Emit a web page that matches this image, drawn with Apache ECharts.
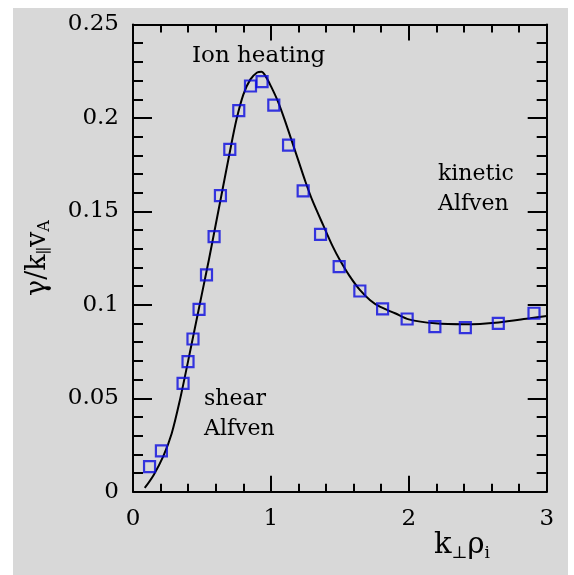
<!DOCTYPE html>
<html>
<head>
<meta charset="utf-8">
<script src="https://cdn.jsdelivr.net/npm/echarts@6/dist/echarts.min.js"></script>
<style>
  html, body { margin: 0; padding: 0; background: #fff; }
  #bg { position: absolute; left: 13px; top: 8px; width: 555px; height: 567px; background: #d8d8d8; }
  #main { position: absolute; left: 0; top: 0; width: 574px; height: 575px; }
</style>
</head>
<body>
<div id="bg"></div>
<div id="main"></div>
<script>
// simulation points (squares)
var simK = [0.12, 0.206, 0.363, 0.399, 0.435, 0.479, 0.533, 0.588, 0.634, 0.702, 0.767, 0.852, 0.936,
            1.021, 1.128, 1.234, 1.360, 1.495, 1.645, 1.810, 1.988, 2.189, 2.410, 2.649, 2.908];
var simGamma = [0.0134, 0.0218, 0.058, 0.0696, 0.0817, 0.0976, 0.116, 0.1365, 0.1584, 0.1832, 0.2039, 0.2171, 0.2194,
                0.2069, 0.1855, 0.161, 0.1377, 0.1204, 0.1074, 0.0978, 0.0924, 0.0883, 0.0878, 0.0901, 0.0955];
// theory curve (solid line)
var curveK = [0.085, 0.15, 0.22, 0.28, 0.34, 0.4, 0.45, 0.5, 0.55, 0.6, 0.65, 0.7, 0.75, 0.8, 0.85, 0.9, 0.932,
              0.96, 1.0, 1.05, 1.1, 1.15, 1.2, 1.25, 1.3, 1.38, 1.45, 1.5, 1.57, 1.645, 1.72, 1.79, 1.9, 2.0,
              2.19, 2.41, 2.65, 2.88, 3.0];
var curveGamma = [0.002, 0.009, 0.019, 0.031, 0.049, 0.070, 0.088, 0.106, 0.124, 0.143, 0.162, 0.181, 0.199, 0.2125, 0.2205, 0.2243, 0.2247,
                  0.2225, 0.217, 0.209, 0.199, 0.188, 0.177, 0.166, 0.156, 0.1425, 0.131, 0.124, 0.1155, 0.108, 0.1025, 0.099, 0.0955, 0.0922,
                  0.0901, 0.0896, 0.0906, 0.0928, 0.094];

var serif = 'DejaVu Serif';
var myChart = echarts.init(document.getElementById('main'));

function zip(a, b) {
    var out = [];
    for (var i = 0; i < a.length; i++) out.push([a[i], b[i]]);
    return out;
}

var tickCommon = function (isX, showLabel, pos) {
    return {
        type: 'value',
        position: pos,
        min: 0,
        max: isX ? 3 : 0.25,
        interval: isX ? 1 : 0.05,
        axisLine: { show: true, onZero: false, lineStyle: { color: '#000', width: 2 } },
        axisTick: { show: true, inside: true, length: isX ? 16 : 19, lineStyle: { color: '#000', width: 2 } },
        minorTick: { show: true, splitNumber: 5, length: isX ? 8 : 10, lineStyle: { color: '#000', width: 2 } },
        splitLine: { show: false },
        axisLabel: { show: showLabel, color: '#000', fontFamily: serif, fontSize: 23, margin: isX ? 16 : 14 }
    };
};

var xBottom = tickCommon(true, true, 'bottom');
var xTop = tickCommon(true, false, 'top');
var yLeft = tickCommon(false, true, 'left');
var yRight = tickCommon(false, false, 'right');

yLeft.name = 'γ/k{sub|∥}v{sub|A}';
yLeft.nameLocation = 'middle';
yLeft.nameGap = 80;
yLeft.nameTextStyle = {
    color: '#000', fontFamily: serif, fontSize: 27,
    rich: { sub: { fontFamily: serif, fontSize: 16, verticalAlign: 'bottom', padding: [14, 0, 0, 0] } }
};

myChart.setOption({
    animation: false,
    backgroundColor: 'transparent',
    grid: { left: 133, top: 24.5, right: 27.3, bottom: 83.3 },
    xAxis: [xBottom, xTop],
    yAxis: [yLeft, yRight],
    graphic: [
        { type: 'text', left: 192, top: 45, style: { text: 'Ion heating', fontFamily: serif, fontSize: 23, fill: '#000' } },
        { type: 'text', left: 438, top: 159, style: { text: 'kinetic\nAlfven', fontFamily: serif, fontSize: 22, lineHeight: 30, fill: '#000' } },
        { type: 'text', left: 204, top: 384, style: { text: 'shear\nAlfven', fontFamily: serif, fontSize: 22, lineHeight: 30, fill: '#000' } },
        { type: 'text', left: 434, top: 531, style: {
            text: 'k{sub|⊥}ρ{sub|i}', fontFamily: serif, fontSize: 29, fill: '#000',
            rich: { sub: { fontFamily: serif, fontSize: 17, padding: [16, 0, 0, 0] } }
        } }
    ],
    series: [
        {
            name: 'theory',
            type: 'line',
            data: zip(curveK, curveGamma),
            smooth: 0.3,
            showSymbol: false,
            lineStyle: { color: '#000', width: 2 },
            z: 2
        },
        {
            name: 'simulation',
            type: 'scatter',
            data: zip(simK, simGamma),
            symbol: 'rect',
            symbolSize: 11,
            itemStyle: { color: 'rgba(0,0,0,0)', borderColor: '#0a0ae0', borderWidth: 2.2 },
            z: 3
        }
    ]
});
</script>
</body>
</html>
